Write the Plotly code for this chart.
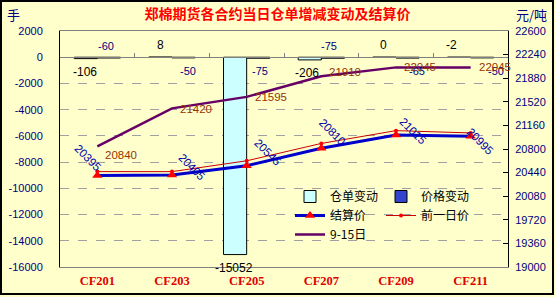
import plotly.graph_objects as go

# ---------------- data ----------------
categories = ["CF201", "CF203", "CF205", "CF207", "CF209", "CF211"]
receipt_change = [-106, 8, -15052, -206, 0, -2]          # 仓单变动 (手)
price_change = [-60, -50, -75, -75, -65, -50]            # 价格变动
settle_price = [20395, 20405, 20545, 20810, 21015, 20995]  # 结算价
prev_price = [20455, 20455, 20620, 20885, 21080, 21045]    # 前一日价
sep15_price = [20840, 21420, 21595, 21910, 22045, 22045]   # 9-15日
left_ticks = [-16000, -14000, -12000, -10000, -8000, -6000, -4000, -2000, 0, 2000]
right_ticks = [19000, 19360, 19720, 20080, 20440, 20800, 21160, 21520, 21880, 22240, 22600]

# ---------------- style / layout helpers ----------------
W, H = 555, 297
ML, MR, MT, MB = 60, 47, 31, 30
PW, PH = W - ML - MR, H - MT - MB
BOTTOM = H - MB


def px_x(p):
    return (p - ML) / PW


def px_y(p):
    return (BOTTOM - p) / PH


NAVY = "#000080"
BG = "#FFFFCC"

# label placement (style only)
receipt_side = [-1, 1, -1, -1, 1, 1]
receipt_dx = [-12, -12, -13, -14, -13, -19]
price_side = [1, -1, -1, 1, -1, -1]
price_dx = [9, 16, 13, 8, 21, 25]
settle_dx = [-9, 20, 21, 11, 17, 9]
settle_dy = [18, 8, 14, 16, 4, -5]
sep_dy = [-9, -1, 0, 4, 0, 0]

fig = go.Figure()

fig.add_trace(go.Bar(
    x=categories, y=receipt_change, name="仓单变动", legend="legend",
    marker=dict(color="#CCFFFF", line=dict(color="black", width=1)),
    hoverinfo="skip"))
fig.add_trace(go.Bar(
    x=categories, y=price_change, name="价格变动", legend="legend2",
    marker=dict(color="#3344CC", line=dict(color="black", width=1)),
    hoverinfo="skip"))
fig.add_trace(go.Scatter(
    x=categories, y=settle_price, name="结算价", yaxis="y2", legend="legend",
    mode="lines+markers",
    line=dict(color="#0000CC", width=3),
    marker=dict(symbol="triangle-up", color="#FF0000", size=9),
    hoverinfo="skip"))
fig.add_trace(go.Scatter(
    x=categories, y=prev_price, name="前一日价", yaxis="y2", legend="legend2",
    mode="lines+markers",
    line=dict(color="#CC0000", width=1),
    marker=dict(symbol="circle", color="#FF0000", size=4),
    hoverinfo="skip"))
fig.add_trace(go.Scatter(
    x=categories, y=sep15_price, name="9-15日", yaxis="y2", legend="legend",
    mode="lines",
    line=dict(color="#660066", width=2.5),
    hoverinfo="skip"))
# dummy trace to carry the zero category axis with tick marks
fig.add_trace(go.Scatter(x=[None], y=[None], xaxis="x2", showlegend=False,
                         hoverinfo="skip"))

annotations = []
for c, v, s, dx in zip(categories, receipt_change, receipt_side, receipt_dx):
    annotations.append(dict(
        x=c, y=v, xref="x", yref="y", text=str(v), showarrow=False,
        xshift=dx, yshift=12 * s if s > 0 else -13,
        font=dict(family="Liberation Sans", size=12, color="black")))
for c, v, s, dx in zip(categories, price_change, price_side, price_dx):
    annotations.append(dict(
        x=c, y=v, xref="x", yref="y", text=str(v), showarrow=False,
        xshift=dx, yshift=12 * s if s > 0 else -13,
        font=dict(family="Liberation Sans", size=11, color=NAVY)))
for c, v, dx, dy in zip(categories, settle_price, settle_dx, settle_dy):
    annotations.append(dict(
        x=c, y=v, xref="x", yref="y2", text=str(v), showarrow=False,
        xshift=dx, yshift=dy, textangle=45,
        font=dict(family="Liberation Sans", size=11.5, color="#0000AA")))
for c, v, dy in zip(categories, sep15_price, sep_dy):
    annotations.append(dict(
        x=c, y=v, xref="x", yref="y2", text=str(v), showarrow=False,
        xanchor="left", xshift=6, yshift=dy,
        font=dict(family="Liberation Sans", size=11.5, color="#993300")))

annotations.append(dict(x=px_x(13), y=px_y(15), xref="paper", yref="paper",
                        xanchor="center", yanchor="middle",
                        text="手", showarrow=False,
                        font=dict(family="Noto Sans CJK SC", size=13, color=NAVY)))
annotations.append(dict(x=px_x(531), y=px_y(15), xref="paper", yref="paper",
                        xanchor="center", yanchor="middle",
                        text="元/吨", showarrow=False,
                        font=dict(family="Noto Sans CJK SC", size=13, color=NAVY)))

legend_style = dict(orientation="v", xanchor="left", yanchor="top",
                    bgcolor="rgba(0,0,0,0)", tracegroupgap=0, itemwidth=30,
                    font=dict(family="Noto Sans CJK SC", size=12, color="black"))

fig.update_layout(
    width=W, height=H,
    margin=dict(l=ML, r=MR, t=MT, b=MB, pad=0, autoexpand=False),
    paper_bgcolor=BG, plot_bgcolor=BG,
    barmode="group", bargap=0.38, bargroupgap=0,
    title=dict(text="<b>郑棉期货各合约当日仓单增减变动及结算价</b>",
               x=0.5, xref="container", xanchor="center",
               y=1 - 14 / H, yref="container", yanchor="middle",
               font=dict(family="Noto Sans CJK SC", size=14, color="#FF0000")),
    xaxis=dict(type="category", range=[-0.5, 5.5], automargin=False,
               showline=True, linecolor="#808080", linewidth=1, mirror=True,
               ticks="", showgrid=False, zeroline=False,
               ticklabelstandoff=2,
               tickfont=dict(family="Liberation Serif", size=12.5, color="#E00000",
                             weight="bold")),
    xaxis2=dict(overlaying="x", anchor="free", position=16000 / 18000,
                side="top", range=[-0.5, 5.5], automargin=False,
                tickvals=[0.5, 1.5, 2.5, 3.5, 4.5],
                ticks="outside", ticklen=4, tickcolor="#808080",
                showline=True, linecolor="#808080", linewidth=1,
                showticklabels=False, showgrid=False, zeroline=False),
    yaxis=dict(range=[-16000, 2000], tickvals=left_ticks, automargin=False,
               ticktext=[str(t) for t in left_ticks],
               showgrid=True, gridcolor="#A0A0A0", griddash="dash", gridwidth=1,
               showline=True, linecolor="black", linewidth=1,
               zeroline=False, ticks="", ticklabelstandoff=14,
               tickfont=dict(family="Liberation Sans", size=11, color=NAVY)),
    yaxis2=dict(overlaying="y", side="right", range=[19000, 22600],
                automargin=False,
                tickvals=right_ticks, ticktext=[str(t) for t in right_ticks],
                showgrid=False, zeroline=False,
                showline=True, linecolor="black", linewidth=1,
                ticks="inside", ticklen=5, tickcolor="black",
                ticklabelstandoff=4,
                tickfont=dict(family="Liberation Sans", size=11, color=NAVY)),
    legend=dict(x=px_x(290), y=px_y(182), **legend_style),
    legend2=dict(x=px_x(381), y=px_y(182), **legend_style),
    annotations=annotations,
    shapes=[dict(type="rect", xref="paper", yref="paper",
                 x0=px_x(1), x1=px_x(553), y0=px_y(294), y1=px_y(1),
                 line=dict(color="black", width=2), layer="above")],
    showlegend=True,
)

fig.write_html("out.html")
